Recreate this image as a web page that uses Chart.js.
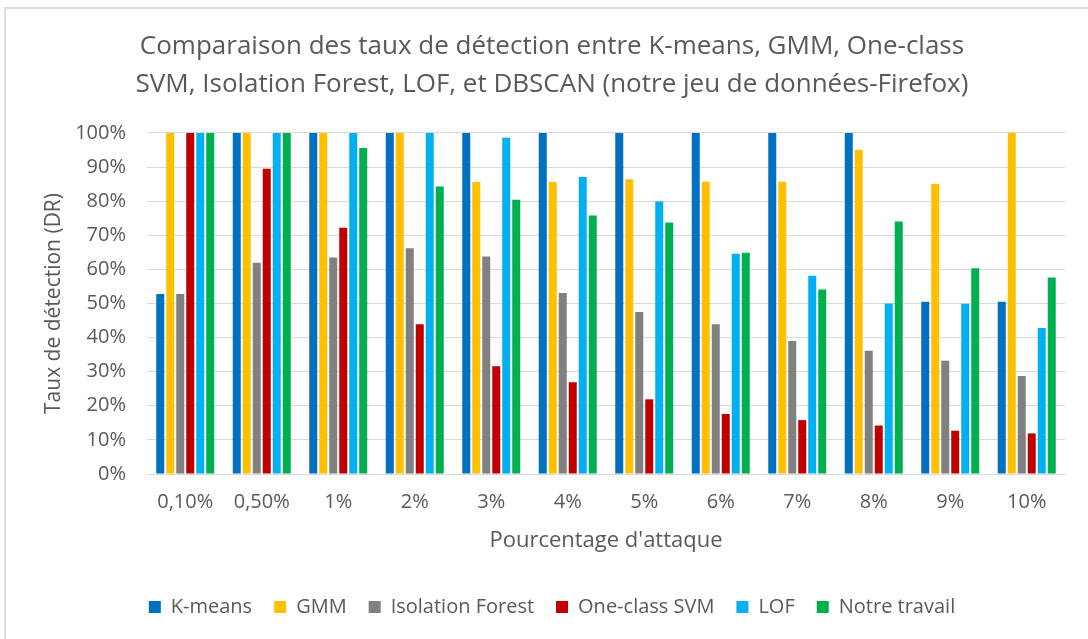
<!DOCTYPE html>
<html>
<head>
<meta charset="utf-8">
<script src="https://cdn.jsdelivr.net/npm/chart.js@4"></script>
<style>
  html, body { margin: 0; padding: 0; background: #fff; }
  #wrap { position: relative; width: 1088px; height: 639px; overflow: hidden; }
  #frame { position: absolute; left: 4px; top: 7px; width: 1200px; height: 700px;
           border-left: 2px solid #dcdcdc; border-top: 2px solid #dcdcdc; box-sizing: border-box; }
  canvas { position: absolute; left: 0; top: 0; }
</style>
</head>
<body>
<div id="wrap">
  <div id="frame"></div>
  <canvas id="c" width="1088" height="639"></canvas>
</div>
<script>
const categories = ["0,10%", "0,50%", "1%", "2%", "3%", "4%", "5%", "6%", "7%", "8%", "9%", "10%"];
const kmeans = [52.8, 100, 100, 100, 100, 100, 100, 100, 100, 100, 50.5, 50.5];
const gmm = [100, 100, 100, 100, 85.6, 85.6, 86.4, 85.7, 85.7, 95.1, 85.1, 100];
const isolationForest = [52.8, 61.9, 63.5, 66.2, 63.8, 53.1, 47.5, 43.9, 39.0, 36.1, 33.2, 28.7];
const oneClassSvm = [100, 89.5, 72.2, 43.9, 31.6, 26.9, 21.9, 17.6, 15.8, 14.2, 12.7, 11.9];
const lof = [100, 100, 100, 100, 98.6, 87.1, 79.9, 64.6, 58.1, 50.0, 49.9, 42.8];
const notreTravail = [100, 100, 95.6, 84.3, 80.4, 75.8, 73.7, 64.9, 54.1, 74.0, 60.3, 57.6];
const seriesNames = ["K-means", "GMM", "Isolation Forest", "One-class SVM", "LOF", "Notre travail"];
const seriesColors = ["#0070C0", "#FFC000", "#808080", "#C00000", "#00B0F0", "#00B050"];
const yTicks = [0, 10, 20, 30, 40, 50, 60, 70, 80, 90, 100];
const titleLines = ["Comparaison des taux de détection entre K-means, GMM, One-class",
                    "SVM, Isolation Forest, LOF, et DBSCAN (notre jeu de données-Firefox)"];

const seriesData = [kmeans, gmm, isolationForest, oneClassSvm, lof, notreTravail];
const FONT = "'Open Sans', sans-serif";
const TXT = "#595959";

new Chart(document.getElementById('c'), {
  type: 'bar',
  data: {
    labels: categories,
    datasets: seriesNames.map((n, i) => ({
      label: n,
      data: seriesData[i],
      backgroundColor: seriesColors[i],
      borderWidth: 0,
      categoryPercentage: 0.784,
      barPercentage: 0.8
    }))
  },
  options: {
    responsive: false,
    animation: false,
    devicePixelRatio: 1,
    layout: { padding: { left: 39, right: 23, top: 0, bottom: 12 } },
    plugins: {
      title: {
        display: true,
        text: titleLines,
        color: TXT,
        font: { family: FONT, size: 26, weight: 'normal', lineHeight: 1.46 },
        padding: { top: 28, bottom: 29 }
      },
      legend: {
        position: 'bottom',
        labels: {
          color: TXT,
          font: { family: FONT, size: 20 },
          boxWidth: 12, boxHeight: 12,
          padding: 22
        }
      },
      tooltip: { enabled: false }
    },
    scales: {
      x: {
        grid: { display: false, drawTicks: false },
        border: { display: true, color: '#d9d9d9', width: 1 },
        ticks: { color: TXT, font: { family: FONT, size: 20, lineHeight: 1.0 }, padding: 18, maxRotation: 0 },
        title: { display: true, text: "Pourcentage d'attaque", color: TXT,
                 font: { family: FONT, size: 22, lineHeight: 1.0 }, padding: { top: 0, bottom: 23 } }
      },
      y: {
        min: 0, max: 100,
        afterBuildTicks: (s) => { s.ticks = yTicks.map(v => ({ value: v })); },
        afterFit: (s) => { s.width = 108; },
        grid: { color: '#d9d9d9', lineWidth: 1, drawTicks: false },
        border: { display: false },
        ticks: { color: TXT, font: { family: FONT, size: 20 }, padding: 21,
                 callback: (v) => v + '%' },
        title: { display: true, text: "Taux de détection (DR)", color: TXT,
                 font: { family: FONT, size: 21 }, padding: { top: 2, bottom: 0 } }
      }
    }
  }
});
</script>
</body>
</html>
